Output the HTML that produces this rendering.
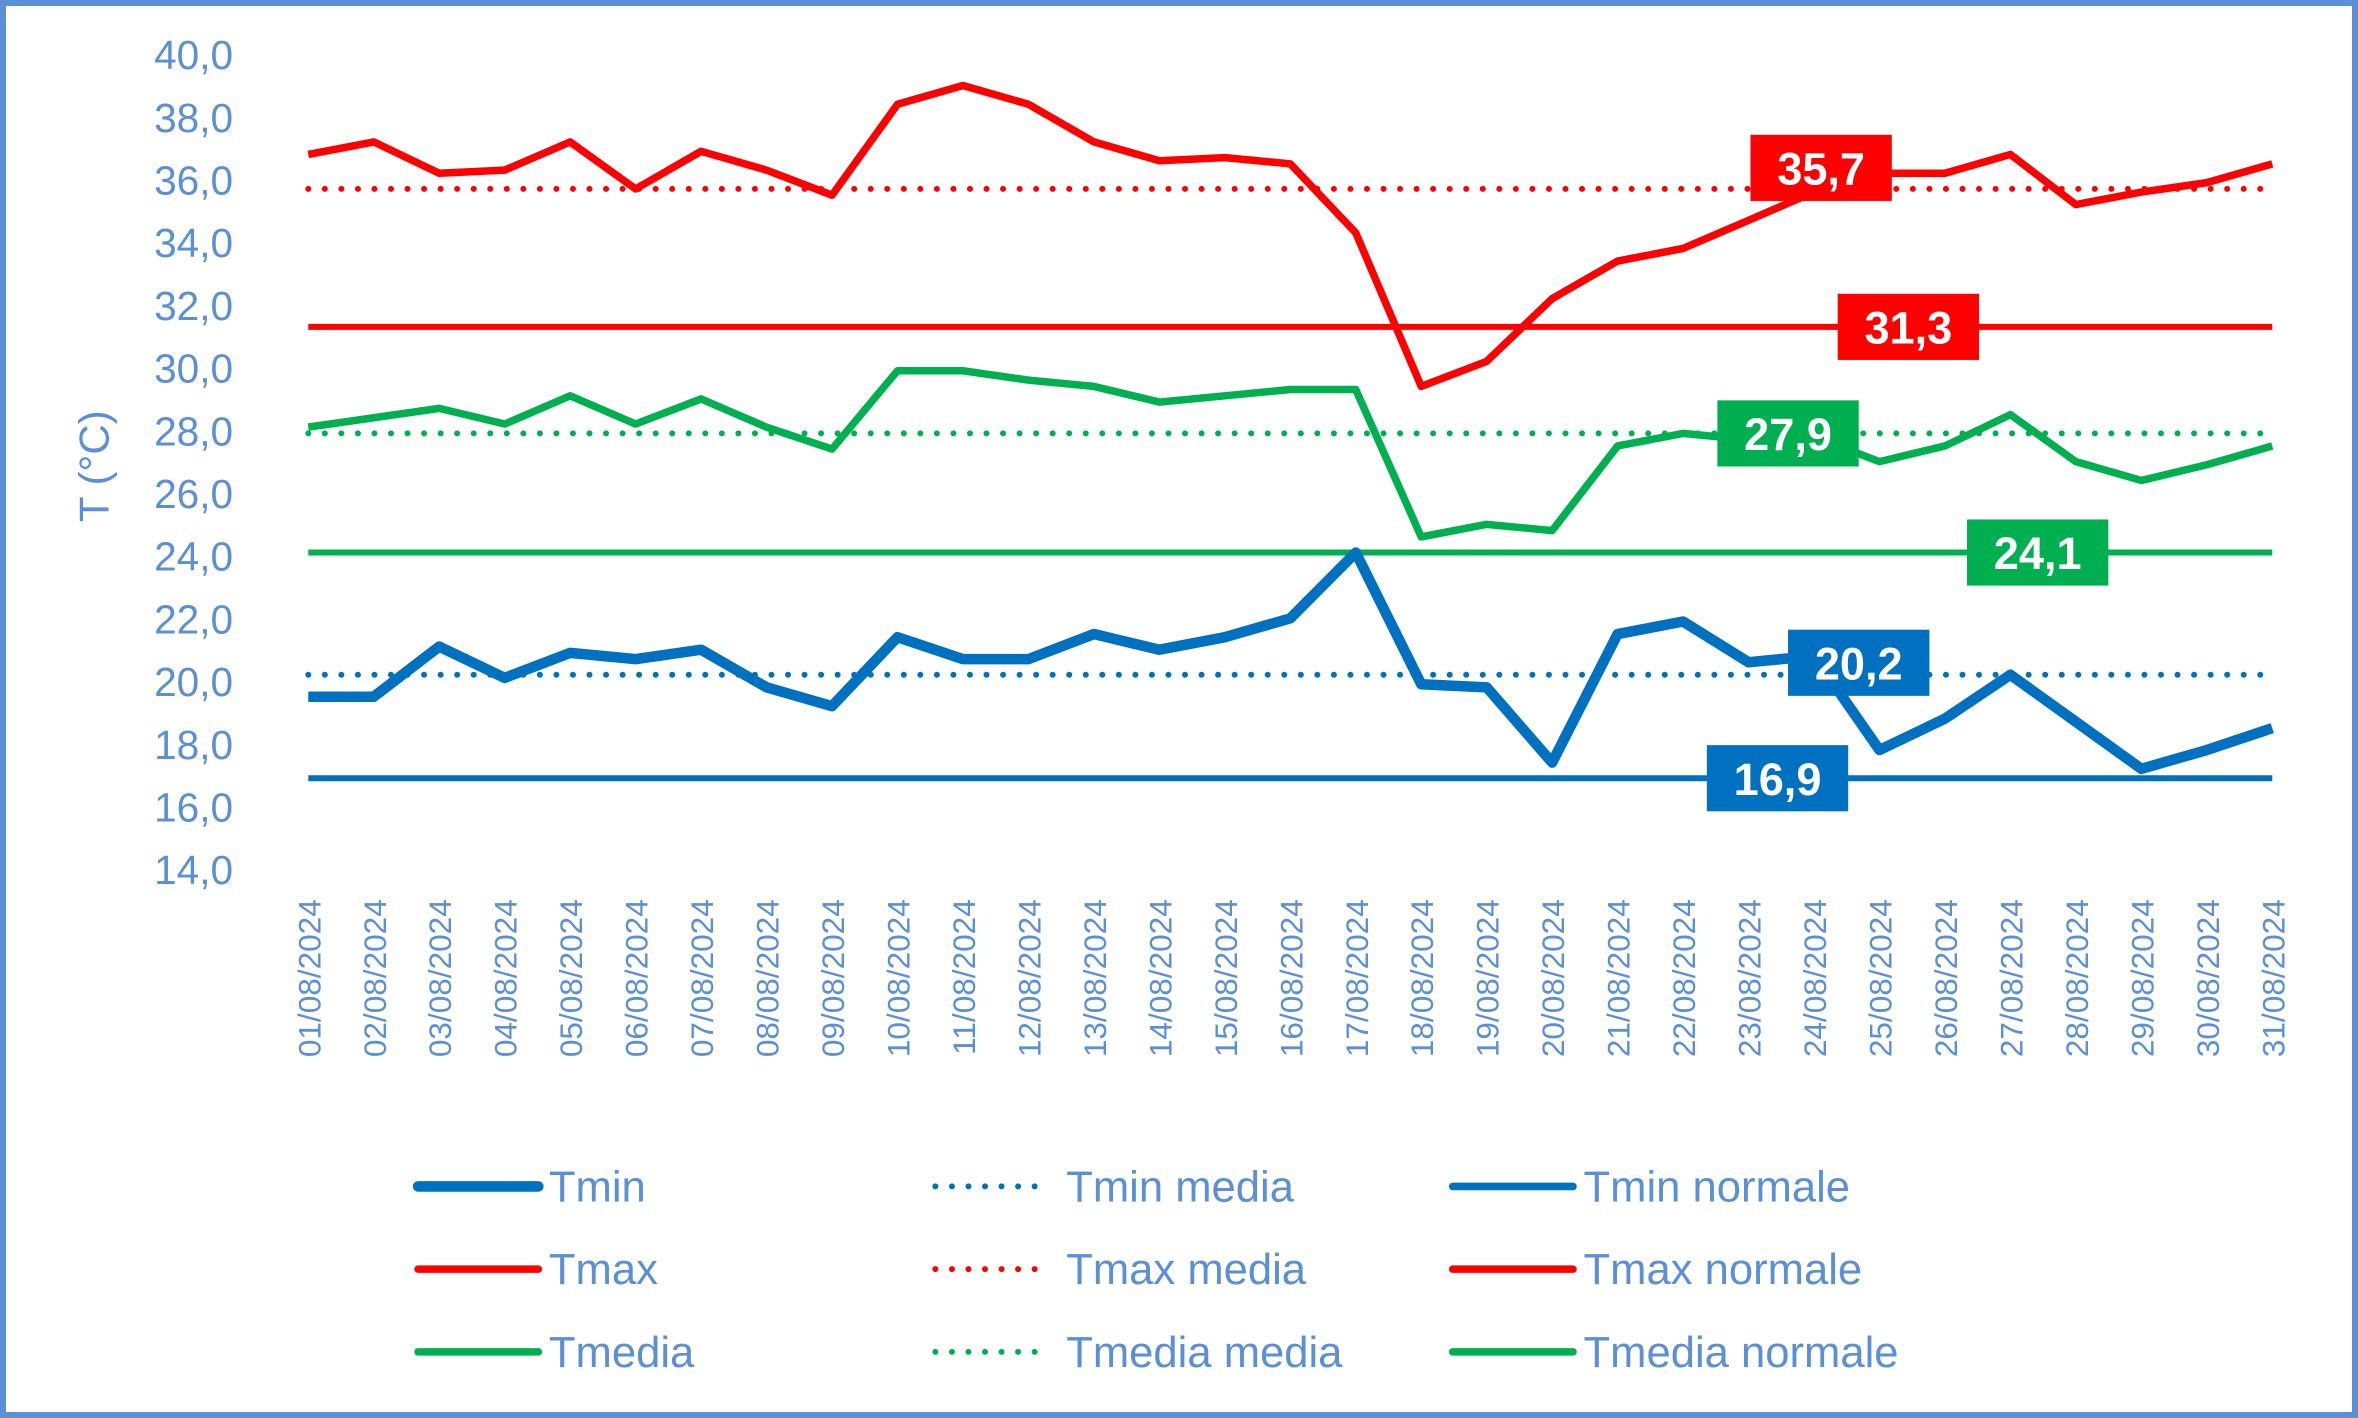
<!DOCTYPE html>
<html><head><meta charset="utf-8"><style>
html,body{margin:0;padding:0;background:#fff;}
svg{display:block;font-family:"Liberation Sans",sans-serif;}
</style></head><body>
<svg id="chart" width="2358" height="1418" viewBox="0 0 1568 943" preserveAspectRatio="none" xmlns="http://www.w3.org/2000/svg">
<rect x="2" y="2" width="1564" height="939" fill="#fff" stroke="#5b8fd6" stroke-width="4"/>
<text transform="translate(72,310) rotate(-90)" text-anchor="middle" font-size="28" fill="#5b8fd6">T (°C)</text>
<g id="yticks"></g><g id="xticks"></g><g id="series"></g><g id="labels"></g><g id="legend"></g>
</svg>
<script>
const days = Array.from({length:31},(_,i)=>String(i+1).padStart(2,'0')+'/08/2024');
const tmax = [36.8,37.2,36.2,36.3,37.2,35.7,36.9,36.3,35.5,38.4,39.0,38.4,37.2,36.6,36.7,36.5,34.3,29.4,30.2,32.2,33.4,33.8,34.7,35.6,36.2,36.2,36.8,35.2,35.6,35.9,36.5];
const tmedia = [28.1,28.4,28.7,28.2,29.1,28.2,29.0,28.1,27.4,29.9,29.9,29.6,29.4,28.9,29.1,29.3,29.3,24.6,25.0,24.8,27.5,27.9,27.7,27.8,27.0,27.5,28.5,27.0,26.4,26.9,27.5];
const tmin = [19.5,19.5,21.1,20.1,20.9,20.7,21.0,19.8,19.2,21.4,20.7,20.7,21.5,21.0,21.4,22.0,24.1,19.9,19.8,17.4,21.5,21.9,20.6,20.8,17.8,18.8,20.2,18.7,17.2,17.8,18.5];
const refValues = [35.7,31.3,27.9,24.1,20.2,16.9];
const yTicks = [14,16,18,20,22,24,26,28,30,32,34,36,38,40];
const NS='http://www.w3.org/2000/svg';
const xs=i=>205+i*(1511-205)/30;
const ys=v=>578-(v-14)*(578-36)/26;
function mk(tag,attrs,parent){const e=document.createElementNS(NS,tag);for(const k in attrs)e.setAttribute(k,attrs[k]);parent.appendChild(e);return e;}
const RED='#ff0000',GREEN='#00b050',BLUE='#0070c0',AX='#5b8fd6';
const yt=document.getElementById('yticks');
yTicks.forEach(v=>{const t=mk('text',{x:155,y:ys(v)+10,'text-anchor':'end','font-size':27,fill:AX},yt);


t.textContent=v.toFixed(1).replace('.',',');});
const xt=document.getElementById('xticks');
days.forEach((d,i)=>{const t=mk('text',{transform:`translate(${xs(i)+8},598) rotate(-90)`,'text-anchor':'end','font-size':21,fill:AX},xt);


t.textContent=d;});
const sg=document.getElementById('series');
function hline(v,color,dotted,name){const l=mk('line',{x1:xs(0),x2:xs(30),y1:ys(v),y2:ys(v),stroke:color,'stroke-width':dotted?4:4,'stroke-dasharray':dotted?'0 11':'none','stroke-linecap':dotted?'round':'butt'},sg);

}
hline(refValues[0],RED,true,'tmax-media-line');
hline(refValues[1],RED,false,'tmax-normale-line');
hline(refValues[2],GREEN,true,'tmedia-media-line');
hline(refValues[3],GREEN,false,'tmedia-normale-line');
hline(refValues[4],BLUE,true,'tmin-media-line');
hline(refValues[5],BLUE,false,'tmin-normale-line');
function poly(arr,color,w,name){const p=mk('polyline',{points:arr.map((v,i)=>xs(i)+','+ys(v)).join(' '),fill:'none',stroke:color,'stroke-width':w,'stroke-linejoin':'round'},sg);

}
poly(tmax,RED,5,'tmax-line');
poly(tmedia,GREEN,5,'tmedia-line');
poly(tmin,BLUE,7,'tmin-line');
const lg=document.getElementById('labels');
const labelPos=[[1211,RED],[1269,RED],[1189,GREEN],[1355,GREEN],[1236,BLUE],[1182,BLUE]];
const labelNames=['tmax-media-label','tmax-normale-label','tmedia-media-label','tmedia-normale-label','tmin-media-label','tmin-normale-label'];
refValues.forEach((v,i)=>{const cx=labelPos[i][0],cy=ys(v)-(i===0?14:(i===4?8:0));
const g=mk('g',{},lg);


mk('rect',{x:cx-47,y:cy-22,width:94,height:44,fill:labelPos[i][1]},g);
const t=mk('text',{x:cx,y:cy+11,'text-anchor':'middle','font-size':30,'font-weight':'bold',fill:'#fff'},g);
t.textContent=v.toFixed(1).replace('.',',');});
const leg=document.getElementById('legend');
const legItems=[['Tmin',BLUE,false,7],['Tmin media',BLUE,true,4],['Tmin normale',BLUE,false,5],
['Tmax',RED,false,5],['Tmax media',RED,true,4],['Tmax normale',RED,false,5],
['Tmedia',GREEN,false,5],['Tmedia media',GREEN,true,4],['Tmedia normale',GREEN,false,5]];
const colX=[[278,358,365],[622,692,709],[966,1046,1053]];const rowY=[789,844,899];
legItems.forEach((it,k)=>{const r=Math.floor(k/3),c=k%3,y=rowY[r];
const g=mk('g',{},leg);


mk('line',{x1:colX[c][0],x2:colX[c][1],y1:y,y2:y,stroke:it[1],'stroke-width':it[3],'stroke-dasharray':it[2]?'0 11':'none','stroke-linecap':'round'},g);
const t=mk('text',{x:colX[c][2],y:y+10,'font-size':29,fill:AX},g);
t.textContent=it[0];});
</script>
</body></html>
